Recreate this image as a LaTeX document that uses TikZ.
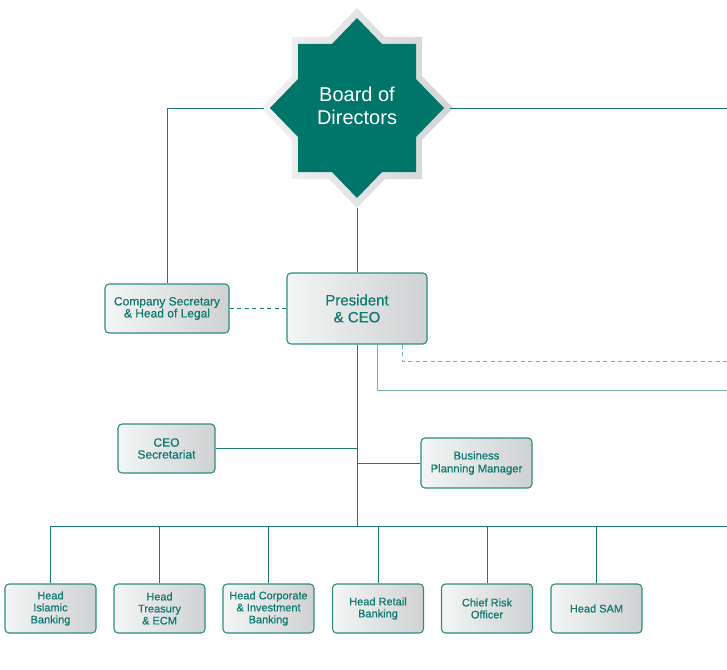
\documentclass[tikz,border=0pt]{standalone}
\usepackage{fontspec}
\setmainfont{Liberation Sans}
\newfontfamily\unitfont[FakeBold=0.6]{Liberation Sans}
\usepackage{tikz}

\definecolor{boardteal}{HTML}{00756A}
\definecolor{boxtext}{HTML}{117A70}
\definecolor{boxline}{HTML}{2B8D82}
\definecolor{linkteal}{HTML}{1A7B73}
\definecolor{linklight}{HTML}{6FB3AB}
\definecolor{boxlight}{HTML}{F4F5F5}
\definecolor{boxdark}{HTML}{CFD1D2}
\definecolor{starlight}{HTML}{F2F2F3}
\definecolor{stardark}{HTML}{D3D4D6}

\tikzset{
  unit/.style={draw=boxline, line width=1.1pt, rounded corners=4pt,
    left color=boxlight, right color=boxdark, text=boxtext, align=center,
    inner sep=0pt, minimum width=91pt, minimum height=49pt,
    font=\unitfont\fontsize{11}{12}\selectfont},
  link/.style={draw=linkteal, line width=0.8pt},
}

\begin{document}
\begin{tikzpicture}[x=1pt,y=-1pt]
  \useasboundingbox (0,0) rectangle (727,669);

  % board star
  \begin{scope}[shift={(357,108)}]
    \shade[left color=starlight, right color=stardark]
      (0,-100) -- (28,-71) -- (65,-71) -- (65,-32) -- (96,0) -- (65,32)
      -- (65,71) -- (28,71) -- (0,100) -- (-28,71) -- (-65,71) -- (-65,32)
      -- (-96,0) -- (-65,-32) -- (-65,-71) -- (-28,-71) -- cycle;
    \fill[boardteal]
      (0,-90) -- (25,-64) -- (59,-64) -- (59,-29) -- (87,0) -- (59,29)
      -- (59,64) -- (25,64) -- (0,90) -- (-25,64) -- (-59,64) -- (-59,29)
      -- (-87,0) -- (-59,-29) -- (-59,-64) -- (-25,-64) -- cycle;
    \node[text=white, align=center, font=\fontsize{20}{23}\selectfont] (board) at (0,-2) {Board of\\Directors};
    \coordinate (board-w) at (-93,0);
    \coordinate (board-e) at (93,0);
    \coordinate (board-s) at (0,100);
  \end{scope}

  \node[unit, minimum width=124pt, font=\unitfont\fontsize{12}{12}\selectfont] (cosec) at (167,308.5) {Company Secretary\\\& Head of Legal};
  \node[unit, minimum width=140pt, minimum height=71pt, font=\unitfont\fontsize{15}{17}\selectfont] (ceo) at (357,308.5) {President\\\& CEO};
  \node[unit, minimum width=97pt, font=\unitfont\fontsize{12}{12}\selectfont] (secr) at (166.5,448.5) {CEO\\Secretariat};
  \node[unit, minimum width=111pt, minimum height=50pt, font=\unitfont\fontsize{11.3}{13}\selectfont] (bpm) at (476.5,463) {Business\\Planning Manager};

  \node[unit] (islamic) at (50.5,608.5) {Head\\Islamic\\Banking};
  \node[unit] (treasury) at (159.5,608.5) {Head\\Treasury\\\& ECM};
  \node[unit] (corporate) at (268.5,608.5) {Head Corporate\\\& Investment\\Banking};
  \node[unit] (retail) at (378,608.5) {Head Retail\\Banking};
  \node[unit] (risk) at (487,608.5) {Chief Risk\\Officer};
  \node[unit] (sam) at (596.5,608.5) {Head SAM};

  \coordinate (edge-top) at (727,108);
  \coordinate (edge-solid) at (727,390);
  \coordinate (edge-dash) at (727,361);
  \coordinate (bus-w) at (50.5,526);
  \coordinate (bus-e) at (727,526);

  \draw[link] (board-w) -| (cosec.north);
  \draw[link] (board-e) -- (edge-top);
  \draw[link] (board-s) -- (ceo.north);
  \draw[link, dash pattern=on 4pt off 3.5pt] (cosec.east) -- (ceo.west);
  \draw[link, draw=linklight] ([xshift=20pt]ceo.south) |- (edge-solid);
  \draw[link, draw=linklight, dash pattern=on 4pt off 3.5pt] ([xshift=45pt]ceo.south) |- (edge-dash);

  \draw[link] (ceo.south) -- (ceo.south |- bus-w);
  \draw[link] (secr.east) -- (secr.east -| ceo.south);
  \draw[link] (bpm.west) -- (bpm.west -| ceo.south);
  \draw[link] (bus-w) -- (bus-e);

  \draw[link] (islamic.north) -- (islamic.north |- bus-w);
  \draw[link] (treasury.north) -- (treasury.north |- bus-w);
  \draw[link] (corporate.north) -- (corporate.north |- bus-w);
  \draw[link] (retail.north) -- (retail.north |- bus-w);
  \draw[link] (risk.north) -- (risk.north |- bus-w);
  \draw[link] (sam.north) -- (sam.north |- bus-w);
\end{tikzpicture}
\end{document}
